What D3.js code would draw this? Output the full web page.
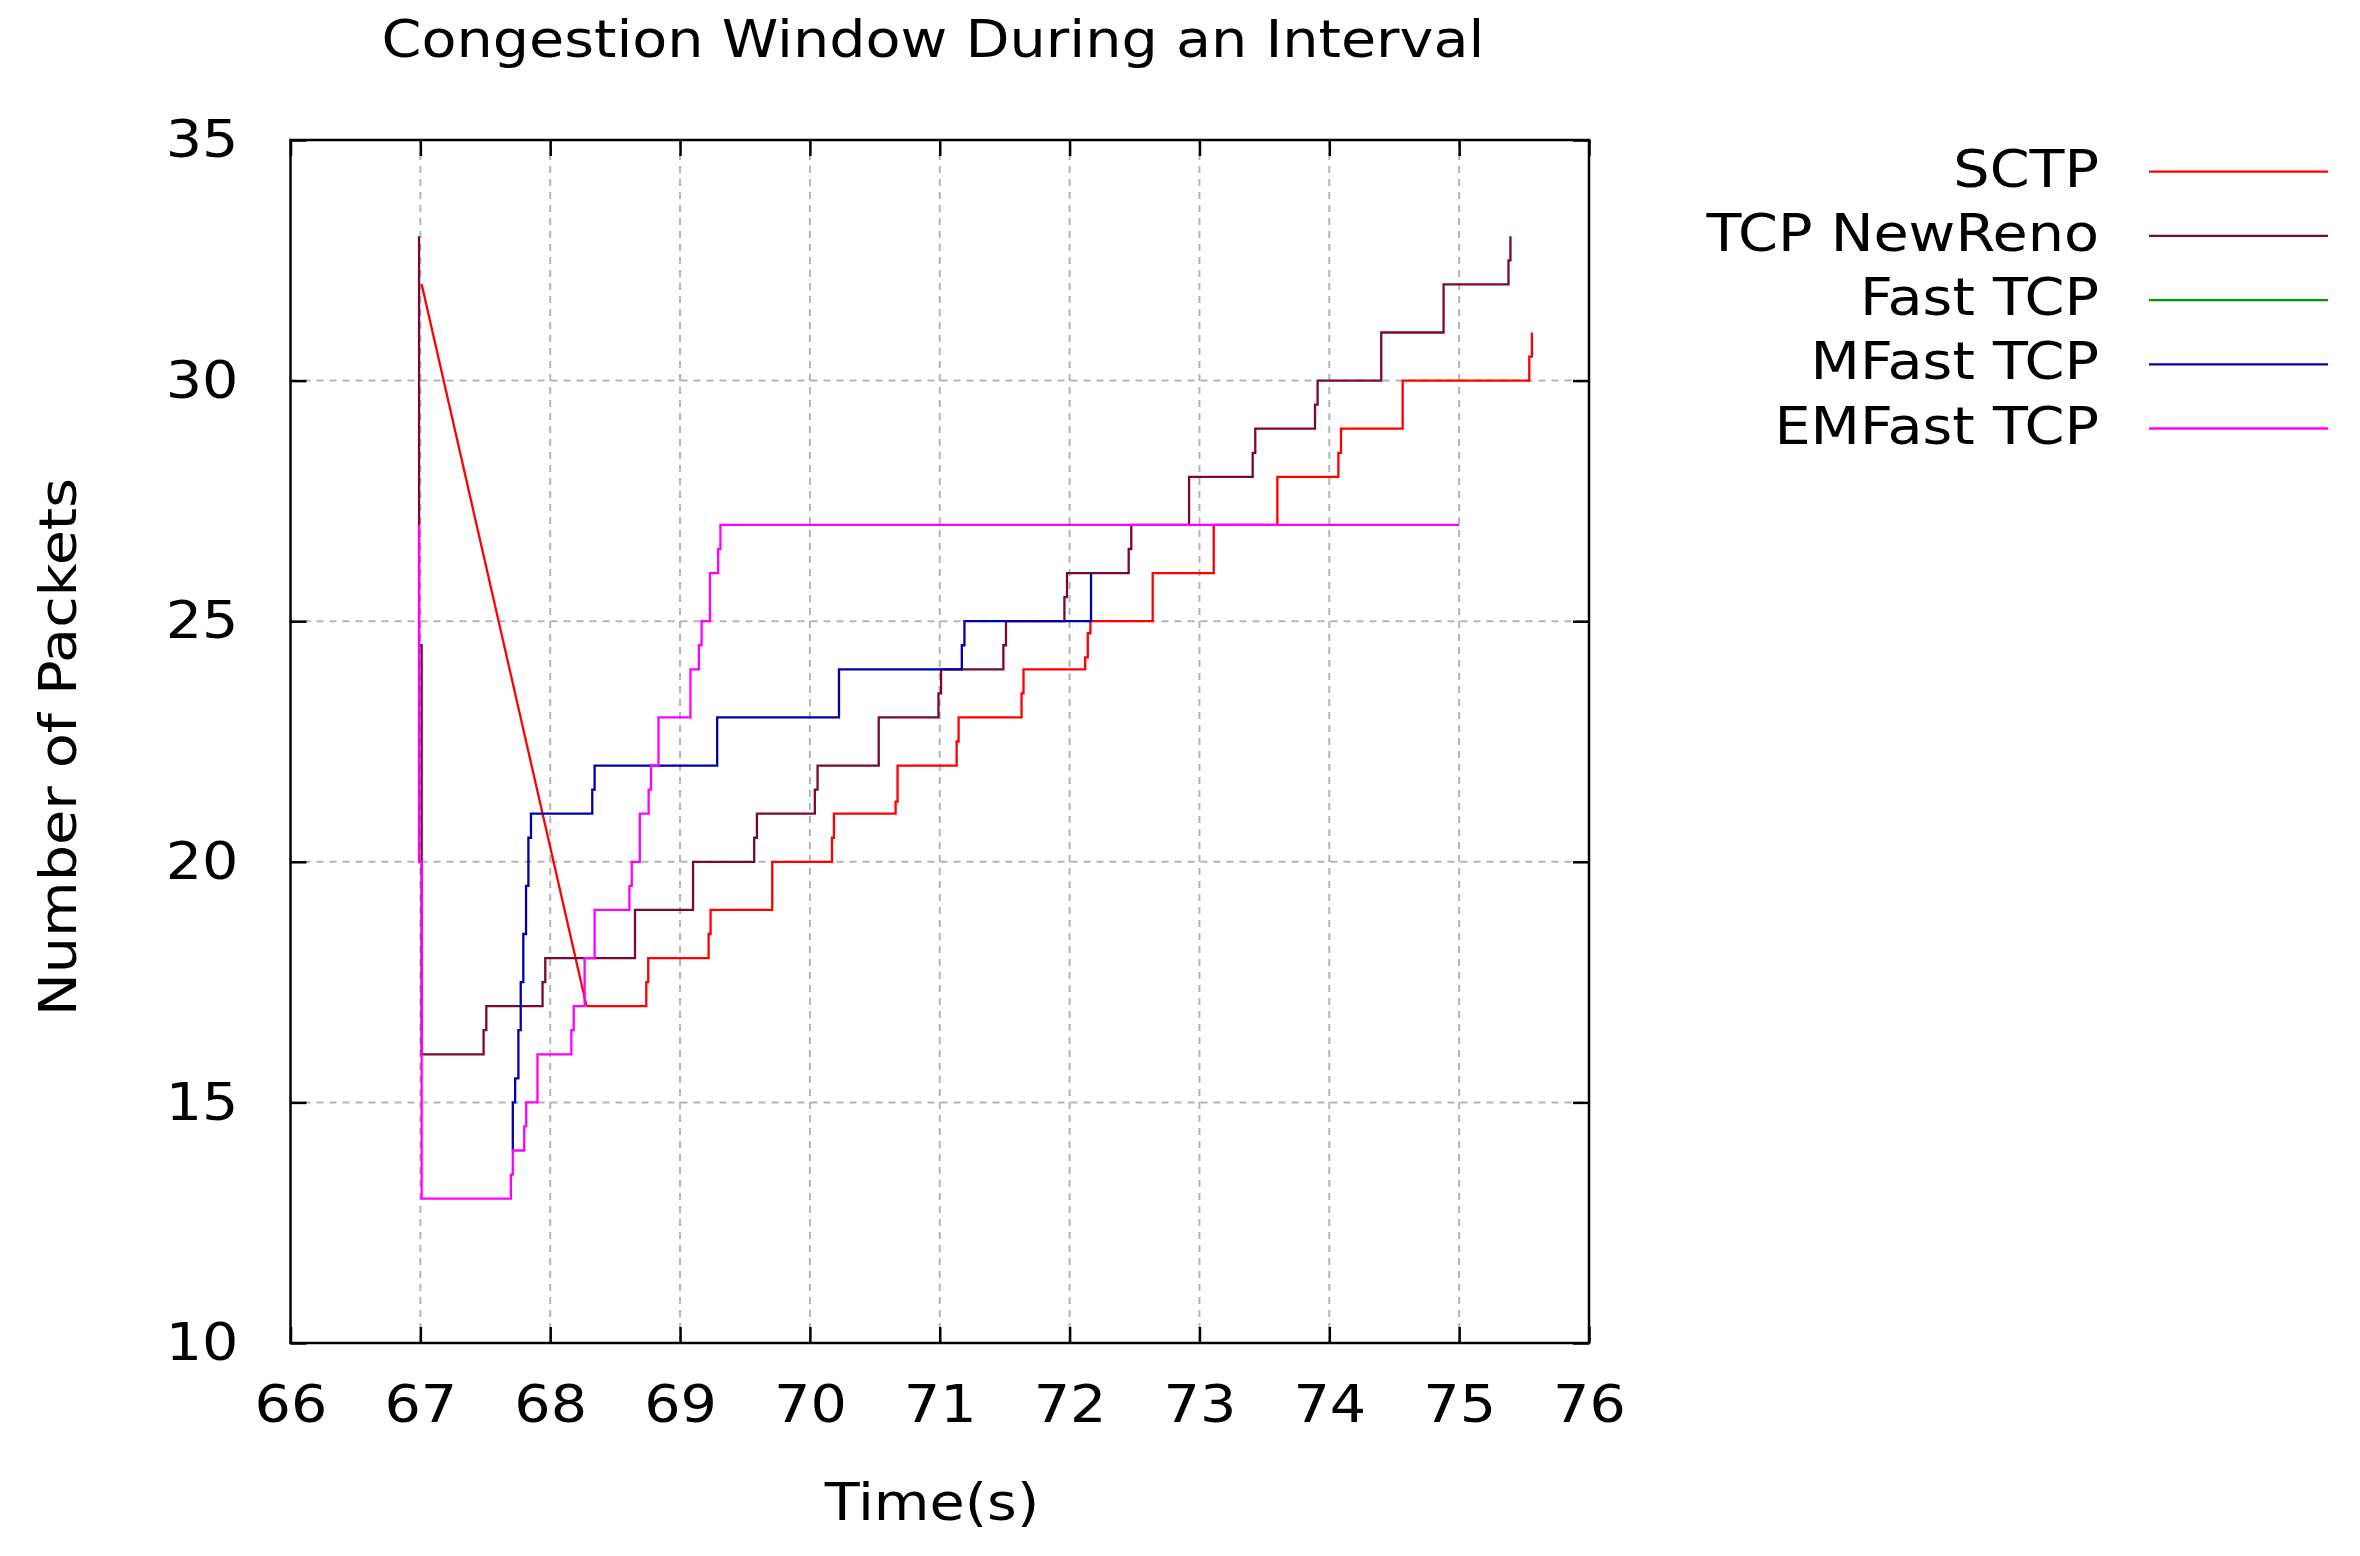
<!DOCTYPE html>
<html>
<head>
<meta charset="utf-8">
<script src="https://cdn.jsdelivr.net/npm/d3@7"></script>
<style>
  html, body { margin: 0; padding: 0; background: #ffffff; }
  svg { display: block; }
  text { font-family: "DejaVu Sans", sans-serif; fill: #000; }
</style>
</head>
<body>
<svg id="chart" width="2360" height="1556"></svg>
<script>
// ---------------- data ----------------
const chartTitle = "Congestion Window During an Interval";
const xLabel = "Time(s)";
const yLabel = "Number of Packets";
const xTicks = [66, 67, 68, 69, 70, 71, 72, 73, 74, 75, 76];
const yTicks = [10, 15, 20, 25, 30, 35];

const seriesNames = ["SCTP", "TCP NewReno", "Fast TCP", "MFast TCP", "EMFast TCP"];
const seriesColors = ["#ff0000", "#7a0836", "#009900", "#0000a8", "#ff00ff"];

// SCTP: linear decay after the loss, then step events [time, cwnd]
const sctpDecay = [[67.01, 32], [68.28, 17]];
const sctpSteps = [
  [68.28, 17], [68.74, 17.5], [68.755, 18], [69.22, 18.5], [69.235, 19],
  [69.71, 20], [70.17, 20.5], [70.185, 21], [70.66, 21.25], [70.675, 22],
  [71.13, 22.5], [71.145, 23], [71.63, 23.5], [71.645, 24],
  [72.12, 24.25], [72.14, 24.75], [72.16, 25], [72.64, 26], [73.11, 27],
  [73.6, 28], [74.07, 28.5], [74.09, 29], [74.565, 30],
  [75.54, 30.5], [75.56, 31]
];
const newRenoSteps = [
  [66.99, 33], [66.99, 24.5], [67.01, 16],
  [67.487, 16.5], [67.508, 17], [67.941, 17.5], [67.962, 18],
  [68.653, 19], [69.10, 20], [69.571, 20.5], [69.592, 21],
  [70.038, 21.5], [70.059, 22], [70.53, 23], [70.99, 23.5], [71.01, 24],
  [71.49, 24.5], [71.51, 25], [71.96, 25.5], [71.98, 26],
  [72.455, 26.5], [72.475, 27], [72.92, 28], [73.41, 28.5], [73.43, 29],
  [73.89, 29.5], [73.91, 30], [74.40, 31], [74.88, 32],
  [75.38, 32.5], [75.395, 33]
];
const fastTcpSteps = [];
const mFastSteps = [
  [67.712, 14], [67.712, 15], [67.73, 15.5], [67.755, 16.5], [67.773, 17.5],
  [67.793, 18.5], [67.814, 19.5], [67.832, 20.5], [67.852, 21],
  [68.324, 21.5], [68.342, 22], [69.286, 23], [70.224, 24],
  [71.17, 24.5], [71.19, 25], [72.165, 26]
];
const emFastSteps = [
  [66.99, 27], [66.99, 20], [67.01, 13],
  [67.697, 13.5], [67.712, 14], [67.80, 14.5], [67.815, 15], [67.902, 16],
  [68.163, 16.5], [68.181, 17], [68.265, 18], [68.342, 19],
  [68.61, 19.5], [68.628, 20], [68.69, 21], [68.758, 21.5], [68.776, 22],
  [68.834, 23], [69.08, 24], [69.145, 24.5], [69.166, 25], [69.23, 26],
  [69.293, 26.5], [69.311, 27], [75.0, 27]
];

// ---------------- layout ----------------
const svg = d3.select("#chart");
const plot = { left: 290.5, right: 1589, top: 140, bottom: 1343 };
const FS = 52;
const SX = 1.1; // horizontal glyph stretch of the original rendering

const x = d3.scaleLinear().domain([66, 76]).range([plot.left, plot.right]);
const y = d3.scaleLinear().domain([10, 35]).range([plot.bottom, plot.top]);

// grid
const grid = svg.append("g").attr("stroke", "#b4b4b4").attr("stroke-width", 2)
  .attr("stroke-dasharray", "7,6");
grid.selectAll("line.gx").data(xTicks.slice(1, -1)).join("line")
  .attr("x1", d => x(d)).attr("x2", d => x(d))
  .attr("y1", plot.top).attr("y2", plot.bottom);
grid.selectAll("line.gy").data(yTicks.slice(1, -1)).join("line")
  .attr("y1", d => y(d)).attr("y2", d => y(d))
  .attr("x1", plot.left).attr("x2", plot.right);

// axes (ticks inward, mirrored)
const tickLen = 16;
const stretch = sel => sel.each(function () {
  const t = d3.select(this);
  const xx = +t.attr("x") || 0;
  t.attr("x", 0).attr("transform", `translate(${xx},0) scale(${SX},1)`);
});
const axisStyle = g => {
  g.select(".domain").remove();
  g.selectAll(".tick line").attr("stroke", "#000").attr("stroke-width", 2.5);
  g.selectAll(".tick text").attr("font-size", FS).attr("font-family", "DejaVu Sans").attr("fill", "#000")
    .call(stretch);
};
svg.append("g").attr("transform", `translate(0,${plot.bottom})`)
  .call(d3.axisBottom(x).tickValues(xTicks).tickFormat(d3.format("d"))
    .tickSizeInner(-tickLen).tickSizeOuter(0).tickPadding(42))
  .call(axisStyle);
svg.append("g").attr("transform", `translate(0,${plot.top})`)
  .call(d3.axisTop(x).tickValues(xTicks).tickFormat("").tickSizeInner(-tickLen).tickSizeOuter(0))
  .call(axisStyle);
svg.append("g").attr("transform", `translate(${plot.left},0)`)
  .call(d3.axisLeft(y).tickValues(yTicks).tickFormat(d3.format("d"))
    .tickSizeInner(-tickLen).tickSizeOuter(0).tickPadding(52))
  .call(axisStyle);
svg.append("g").attr("transform", `translate(${plot.right},0)`)
  .call(d3.axisRight(y).tickValues(yTicks).tickFormat("").tickSizeInner(-tickLen).tickSizeOuter(0))
  .call(axisStyle);

// series
svg.append("clipPath").attr("id", "clip").append("rect")
  .attr("x", plot.left).attr("y", plot.top)
  .attr("width", plot.right - plot.left).attr("height", plot.bottom - plot.top);
const series = svg.append("g").attr("clip-path", "url(#clip)");
const stepLine = d3.line().x(d => x(d[0])).y(d => y(d[1])).curve(d3.curveStepAfter);
const straightLine = d3.line().x(d => x(d[0])).y(d => y(d[1]));
const lw = 2.3;

series.append("path").datum(sctpDecay).attr("d", straightLine)
  .attr("fill", "none").attr("stroke", seriesColors[0]).attr("stroke-width", lw);
const stepData = [sctpSteps, newRenoSteps, fastTcpSteps, mFastSteps, emFastSteps];
stepData.forEach((s, i) => {
  if (!s.length) return;
  series.append("path").datum(s).attr("d", stepLine)
    .attr("fill", "none").attr("stroke", seriesColors[i]).attr("stroke-width", lw)
    .attr("stroke-linejoin", "miter");
});

// border
svg.append("rect").attr("x", plot.left).attr("y", plot.top)
  .attr("width", plot.right - plot.left).attr("height", plot.bottom - plot.top)
  .attr("fill", "none").attr("stroke", "#000").attr("stroke-width", 2.5);

// titles
const label = (tx, ty, str, anchor, rot) =>
  svg.append("text")
    .attr("transform", `translate(${tx},${ty})${rot ? ` rotate(${rot})` : ""} scale(${SX},1)`)
    .attr("text-anchor", anchor).attr("font-size", FS).text(str);
label(933, 57, chartTitle, "middle");
label(932, 1520, xLabel, "middle");
label(76, 747, yLabel, "middle", -90);

// legend
const legend = svg.append("g");
seriesNames.forEach((name, i) => {
  const ly = 171.7 + i * 64.2;
  legend.append("text").attr("transform", `translate(2099,${ly + 15}) scale(${SX},1)`)
    .attr("text-anchor", "end").attr("font-size", FS).text(name);
  legend.append("line").attr("x1", 2149).attr("x2", 2328).attr("y1", ly).attr("y2", ly)
    .attr("stroke", seriesColors[i]).attr("stroke-width", lw);
});
</script>
</body>
</html>
